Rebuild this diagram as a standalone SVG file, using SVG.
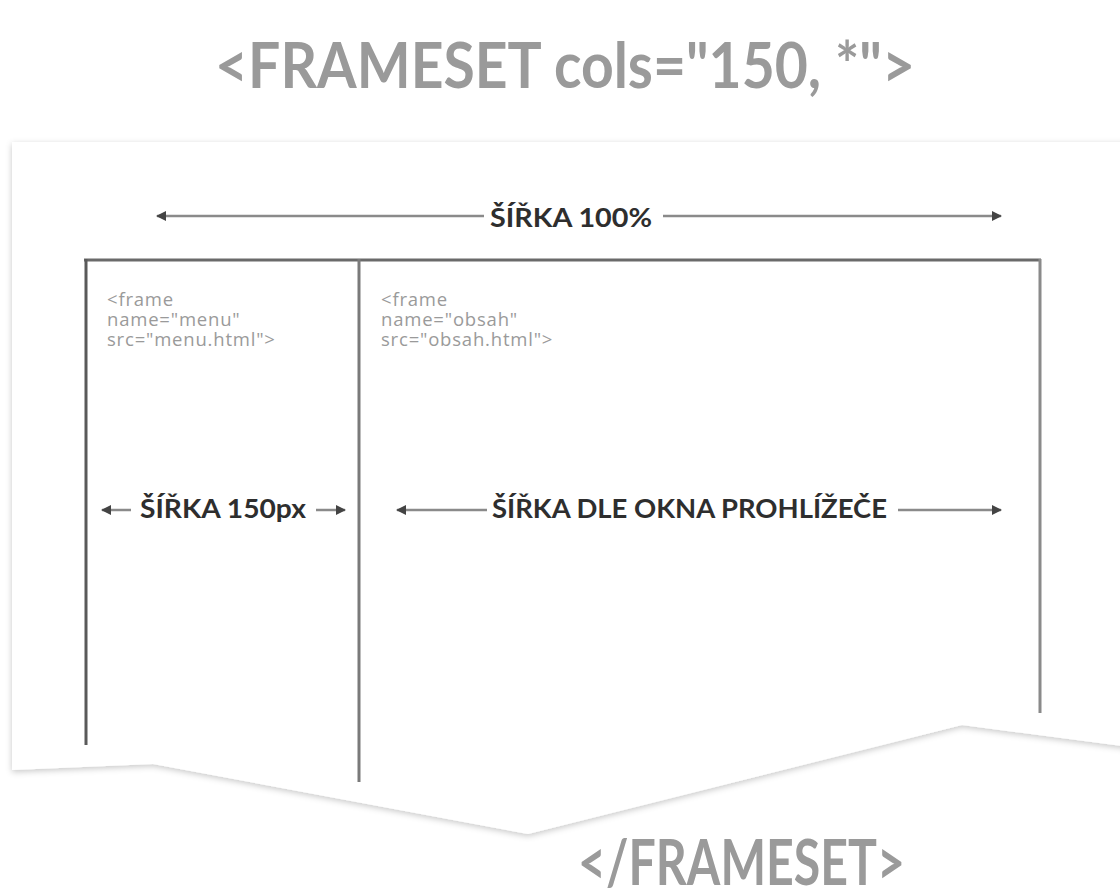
<svg xmlns="http://www.w3.org/2000/svg" width="1120" height="894" viewBox="0 0 1120 894">
<style>
.big{font-family:Lato,"Open Sans","Liberation Sans",sans-serif;font-weight:700;fill:#9a9a9a;font-size:64px}
.lbl{font-family:Lato,"Open Sans","Liberation Sans",sans-serif;font-weight:700;fill:#2e2e2e;font-size:27px}
.code{font-family:"Open Sans","Liberation Sans",sans-serif;fill:#9a9a9a;font-size:18.5px;letter-spacing:0.8px}
.dim{stroke:#8a8a8a;stroke-width:2.5;fill:none}
</style>
<defs>
<filter id="sh" x="-5%" y="-5%" width="110%" height="115%">
<feDropShadow dx="0" dy="2" stdDeviation="3" flood-color="#000" flood-opacity="0.22"/>
</filter>
<marker id="ah" viewBox="0 0 10 10" refX="9" refY="5" markerWidth="4" markerHeight="4" orient="auto-start-reverse" markerUnits="strokeWidth">
<path d="M0,0 L10,5 L0,10 z" fill="#444"/>
</marker>
</defs>
<rect width="1120" height="894" fill="#fff"/>
<path id="paper" d="M12,142 L1130,142 L1130,747 L962,725 L528,834 L153,764 L12,770 Z" fill="#fff" filter="url(#sh)"/>
<text class="big" x="215" y="88" textLength="700" lengthAdjust="spacingAndGlyphs">&lt;FRAMESET cols="150, *"&gt;</text>
<g id="frameset">
<line x1="84" y1="260" x2="1041" y2="260" stroke="#6a6a6a" stroke-width="3"/>
<line x1="86" y1="259" x2="86" y2="745" stroke="#5a5a5a" stroke-width="3"/>
<line x1="1040" y1="259" x2="1040" y2="713" stroke="#8a8a8a" stroke-width="3"/>
</g>
<g id="frame-menu">
<line x1="359" y1="259" x2="359" y2="782" stroke="#7a7a7a" stroke-width="3"/>
<text class="code" x="107" y="306"><tspan x="107">&lt;frame</tspan><tspan x="107" dy="20">name="menu"</tspan><tspan x="107" dy="20">src="menu.html"&gt;</tspan></text>
</g>
<g id="frame-obsah">
<text class="code" x="381" y="306"><tspan x="381">&lt;frame</tspan><tspan x="381" dy="20">name="obsah"</tspan><tspan x="381" dy="20">src="obsah.html"&gt;</tspan></text>
</g>
<g id="connectors">
<line class="dim" x1="484" y1="216" x2="157" y2="216" marker-end="url(#ah)"/>
<line class="dim" x1="663" y1="216" x2="1001" y2="216" marker-end="url(#ah)"/>
<line class="dim" x1="131" y1="510" x2="102" y2="510" marker-end="url(#ah)"/>
<line class="dim" x1="316" y1="510" x2="345" y2="510" marker-end="url(#ah)"/>
<line class="dim" x1="487" y1="510" x2="397" y2="510" marker-end="url(#ah)"/>
<line class="dim" x1="898" y1="510" x2="1001" y2="510" marker-end="url(#ah)"/>
</g>
<g id="labels">
<text class="lbl" x="490" y="227" textLength="162" lengthAdjust="spacingAndGlyphs">ŠÍŘKA 100%</text>
<text class="lbl" x="140" y="518" textLength="166" lengthAdjust="spacingAndGlyphs">ŠÍŘKA 150px</text>
<text class="lbl" x="492" y="518" textLength="395" lengthAdjust="spacingAndGlyphs">ŠÍŘKA DLE OKNA PROHLÍŽEČE</text>
</g>
<text class="big" x="578" y="885" textLength="327" lengthAdjust="spacingAndGlyphs">&lt;/FRAMESET&gt;</text>
</svg>
